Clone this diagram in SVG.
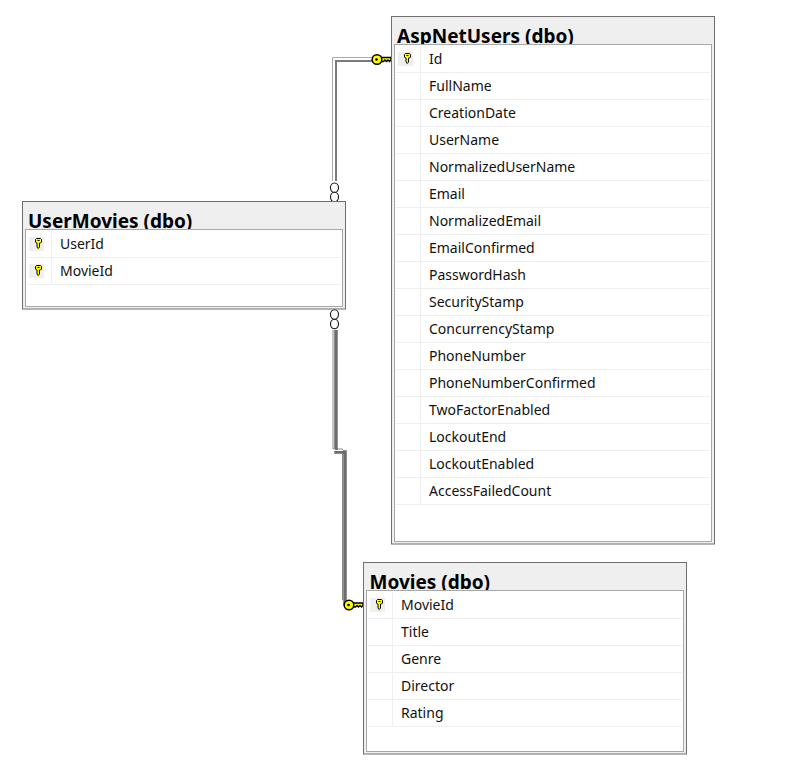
<svg xmlns="http://www.w3.org/2000/svg" width="793" height="769" viewBox="0 0 793 769">
<style>
text{font-family:"Noto Sans","Open Sans",sans-serif;fill:#000}
.t{font-size:19px;font-weight:700}
.c{font-size:14px;fill:#111}
.o{fill:#efefef;stroke:#6e6e6e;stroke-width:1}
.i{fill:#fff;stroke:#a8a8a8;stroke-width:1}
.r{stroke:#efefef;stroke-width:1;fill:none}
.kb{fill:#efefef}
.k{fill:#ffff00;stroke:#000;stroke-width:1}
.bk{fill:#ffff00;stroke:#000;stroke-width:1.500}
.lt{fill:none;stroke:#a8a8a8;stroke-width:1}
.dk{fill:none;stroke:#7a7a7a;stroke-width:2}
.ring{fill:#fff;stroke:#111;stroke-width:1.100}
</style>
<defs>
<g id="sk"><rect x="-10" y="-7" width="15" height="14" class="kb"/><path class="k" d="M-2.500 -5.500h4l1 1v2.500l-1 1h-1v4l-1.200 1.500-1.300-1.200v-4.300h-.5l-1-1v-2.500z"/><rect x="-1.500" y="-4" width="2" height="1" fill="#000"/></g>
<g id="bk"><path class="bk" d="M8 -2H19V.5L17.500 2 16 .5 14.500 2 13 .5 11.500 2 8 2z"/><circle cx="5" cy="0" r="4.800" class="bk"/><circle cx="4.500" cy="0" r="1.300" fill="#000"/></g>
</defs>
<g id="connectors">
<path class="lt" d="M332.500 181V57.500H375"/>
<path class="dk" d="M336 181V61H375"/>
<path fill="none" stroke="#8a8a8a" stroke-width="1" d="M333 330V449H342.500V600"/>
<path fill="none" stroke="#6c6c6c" stroke-width="3.500" d="M336 330V452H345V604H352"/>
<path fill="none" stroke="#fff" stroke-width="1" d="M334.500 449V450.500H343"/>
<ellipse class="ring" cx="334.500" cy="187.700" rx="4" ry="4.700"/><ellipse class="ring" cx="334.500" cy="197" rx="4" ry="4.700"/>
<ellipse class="ring" cx="334.500" cy="314.500" rx="4" ry="4.700"/><ellipse class="ring" cx="334.500" cy="324" rx="4" ry="4.700"/>
<use href="#bk" x="372" y="59.500"/><use href="#bk" x="344" y="605"/>
</g>
<g id="AspNetUsers">
<rect class="o" x="391.500" y="16.500" width="323" height="527.500"/>
<text class="t" x="397" y="43">AspNetUsers (dbo)</text>
<rect class="i" x="394.500" y="44.500" width="317" height="497"/>
<path class="r" d="M396 72.500H710M396 99.500H710M396 126.500H710M396 153.500H710M396 180.500H710M396 207.500H710M396 234.500H710M396 261.500H710M396 288.500H710M396 315.500H710M396 342.500H710M396 369.500H710M396 396.500H710M396 423.500H710M396 450.500H710M396 477.500H710M396 504.500H710M420.500 46V504"/>
<use href="#sk" x="408" y="59"/>
<text class="c" x="429" y="64">Id</text><text class="c" x="429" y="91">FullName</text><text class="c" x="429" y="118">CreationDate</text><text class="c" x="429" y="145">UserName</text><text class="c" x="429" y="172">NormalizedUserName</text><text class="c" x="429" y="199">Email</text><text class="c" x="429" y="226">NormalizedEmail</text><text class="c" x="429" y="253">EmailConfirmed</text><text class="c" x="429" y="280">PasswordHash</text><text class="c" x="429" y="307">SecurityStamp</text><text class="c" x="429" y="334">ConcurrencyStamp</text><text class="c" x="429" y="361">PhoneNumber</text><text class="c" x="429" y="388">PhoneNumberConfirmed</text><text class="c" x="429" y="415">TwoFactorEnabled</text><text class="c" x="429" y="442">LockoutEnd</text><text class="c" x="429" y="469">LockoutEnabled</text><text class="c" x="429" y="496">AccessFailedCount</text>
</g>
<g id="UserMovies">
<rect class="o" x="22.500" y="201.500" width="323" height="107.500"/>
<text class="t" x="28" y="228">UserMovies (dbo)</text>
<rect class="i" x="25.500" y="229.500" width="317" height="77"/>
<path class="r" d="M27 257.500H341M27 284.500H341M51.500 231V284"/>
<use href="#sk" x="39" y="244"/><use href="#sk" x="39" y="271"/>
<text class="c" x="60" y="249">UserId</text><text class="c" x="60" y="276">MovieId</text>
</g>
<g id="Movies">
<rect class="o" x="363.500" y="562.500" width="323" height="191.500"/>
<text class="t" x="369.500" y="589">Movies (dbo)</text>
<rect class="i" x="366.500" y="590.500" width="317" height="161"/>
<path class="r" d="M368 618.500H682M368 645.500H682M368 672.500H682M368 699.500H682M368 726.500H682M392.500 592V726"/>
<use href="#sk" x="380" y="605"/>
<text class="c" x="401" y="610">MovieId</text><text class="c" x="401" y="637">Title</text><text class="c" x="401" y="664">Genre</text><text class="c" x="401" y="691">Director</text><text class="c" x="401" y="718">Rating</text>
</g>
</svg>
